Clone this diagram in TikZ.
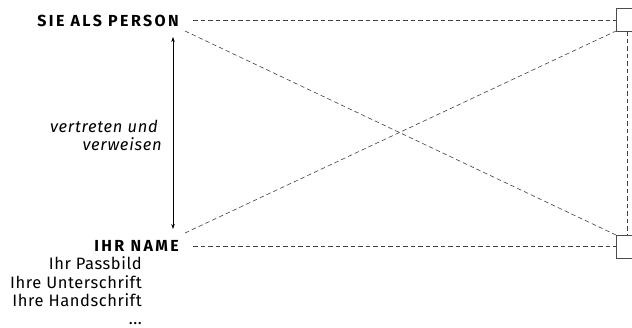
\documentclass[tikz,border=0pt]{standalone}
\usepackage{fontspec}
\setmainfont{Fira Sans}
\usetikzlibrary{arrows.meta}
\begin{document}
\begin{tikzpicture}[x=1pt,y=-1pt,
  dashline/.style={draw=black!75, dash pattern=on 4.5pt off 3pt, line width=0.6pt},
  capslabel/.style={anchor=base east, inner sep=0pt, font=\fontsize{16}{18}\selectfont\bfseries\addfontfeature{LetterSpace=15}},
  plainlabel/.style={anchor=base east, inner sep=0pt, font=\fontsize{16.5}{19}\selectfont\addfontfeature{LetterSpace=3.5}},
  itlabel/.style={anchor=base east, inner sep=0pt, font=\fontsize{16.5}{19}\selectfont\itshape\addfontfeature{LetterSpace=4.5}},
  boxstyle/.style={draw=black!70, line width=0.8pt}]
\useasboundingbox (0,0) rectangle (632,327);
\node[capslabel] (sie) at (179,26) {SIE ALS PERSON};
\node[capslabel] (name) at (179,251) {IHR NAME};
\node[plainlabel] (pass) at (142,269.3) {Ihr Passbild};
\node[plainlabel] (unter) at (142,288.3) {Ihre Unterschrift};
\node[plainlabel] (hand) at (142,306.7) {Ihre Handschrift};
\node[plainlabel] (dots) at (142,324) {...};
\node[itlabel] (v1) at (158,132.3) {vertreten und};
\node[itlabel] (v2) at (162,150) {verweisen};
\coordinate (tl) at (616,8.5);
\coordinate (tb) at (616,31);
\coordinate (bl) at (616,235);
\coordinate (bb) at (616,258);
\draw[boxstyle] (640,8.5) -- (tl) -- (tb) -- (640,31);
\draw[boxstyle] (640,235) -- (bl) -- (bb) -- (640,258);
\coordinate (sieR) at (193,20);
\coordinate (nameR) at (193,246);
\coordinate (sieD) at (185,31);
\coordinate (nameD) at (185,233);
\draw[dashline] (sieR) -- (616,20);
\draw[dashline] (nameR) -- (616,246);
\draw[dashline] (sieD) -- (bl);
\draw[dashline] (nameD) -- (tb);
\draw[dashline] (627.5,31) -- (627.5,235);
\coordinate (a1) at (173,37);
\coordinate (a2) at (173,229);
\draw[{Stealth[length=5pt,width=3.5pt]}-{Stealth[length=5pt,width=3.5pt]}, line width=0.6pt] (a1) -- (a2);
\end{tikzpicture}
\end{document}
